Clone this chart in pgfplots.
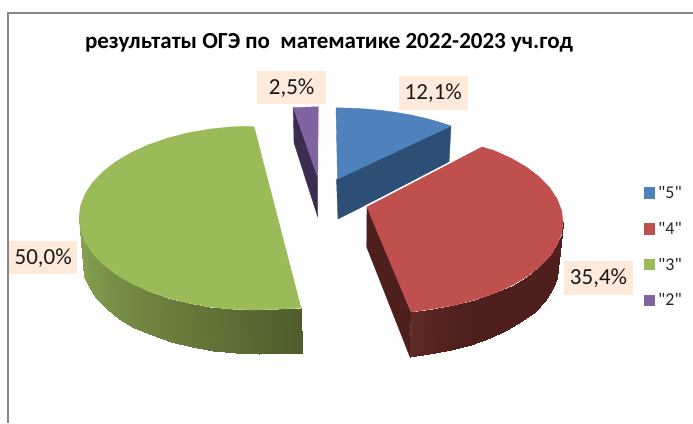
\documentclass[border=0pt]{standalone}
\usepackage{fontspec}
\setmainfont{Carlito}
\newfontfamily\plainfont{Carlito}
\usepackage{pgfplots}
\pgfplotsset{compat=1.18}
\definecolor{bt}{HTML}{4F81BD}
\definecolor{bs}{HTML}{2D4F76}
\definecolor{rt}{HTML}{C0504D}
\definecolor{rs}{HTML}{4E1F1D}
\definecolor{rl}{HTML}{5E2B27}
\definecolor{gt}{HTML}{9BBB59}
\definecolor{gl}{HTML}{8BA753}
\definecolor{gd}{HTML}{4F5E2B}
\definecolor{pt}{HTML}{8064A2}
\definecolor{ps}{HTML}{3B2D4F}
\definecolor{lab}{HTML}{FDEADA}
\definecolor{fr}{HTML}{868686}
\tikzset{lbl/.style={fill=lab,inner sep=0pt,minimum width=68.5pt,minimum height=33.5pt,font=\fontsize{23}{23}\selectfont,text=black!90}}
\pgfplotsset{
 sl/.style={fill=#1,draw=#1,line width=0.4pt,forget plot},
}
\begin{document}
\begin{tikzpicture}
\path[use as bounding box] (0,0) rectangle (693pt,423pt);
\begin{axis}[
  at={(0,0)},anchor=south west,
  scale only axis,width=693pt,height=423pt,
  xmin=0,xmax=693,ymin=0,ymax=423,y dir=reverse,
  hide axis,
  legend image code/.code={\path[draw=none,#1] (0pt,-5.7pt) rectangle (11.5pt,5.7pt);},
  legend style={at={(axis cs:641.5,183)},anchor=north west,draw=none,fill=none,
    font=\plainfont\fontsize{18}{18}\selectfont,row sep=20.2pt,inner sep=2pt,
    nodes={inner ysep=1pt,inner xsep=3pt,text=black!85}},
  legend cell align=left,
]
% frame
\addplot[fr,line width=1.5pt,forget plot] coordinates {(8,423) (8,13) (693,13)};
% blue 12.1
\addplot[sl=bs] coordinates {(337.5,179) (451,126) (449,163) (338,219) (336.5,179)} -- cycle;
\addplot[sl=bt] coordinates {(336,107.8) (351,108.2) (366,109) (381,110.4) (396,112.4) (411,115) (426,118.4) (439,122) (451,126) (337.5,179)} -- cycle;
% purple 2.5
\addplot[sl=ps] coordinates {(293.3,107.7) (317.7,177.3) (317.7,216.7) (294,142.7)} -- cycle;
\addplot[sl=pt] coordinates {(293.3,107.7) (318.3,106.7) (317.7,177.3)} -- cycle;
% green 50
\addplot[surf,shader=interp,forget plot,mesh/rows=2,mesh/ordering=x varies,point meta=explicit,colormap={gg}{color=(gd) color=(gl)},point meta min=0,point meta max=100] coordinates {
 (79,218) [100] (80.5,230) [93] (85,241.8) [86] (92.4,253.2) [79] (102.6,264) [72] (115.4,274) [65] (130.5,283) [58] (147.9,291) [51] (167,297.7) [44] (187.6,303) [37] (209.4,306.9) [30] (232,309.2) [22] (255,310) [12] (278,309.2) [5] (301,308) [0]

 (83,264) [100] (84.5,275.7) [93] (89,287.3) [86] (96.4,298.4) [79] (106.6,309) [72] (119.4,318.8) [65] (134.5,327.6) [58] (151.9,335.4) [51] (171,341.9) [44] (191.6,347.2) [37] (213.4,350.9) [30] (236,353.2) [22] (259,354) [12] (282,353.2) [5] (302,352.5) [0]
};
\addplot[sl=gt] coordinates {(254,126.5) (232,126.8) (209.4,129.1) (187.6,133) (167,138.3) (147.9,145) (130.5,153) (115.4,162) (102.6,172) (92.4,182.8) (85,194.2) (80.5,206) (79,218) (80.5,230) (85,241.8) (92.4,253.2) (102.6,264) (115.4,274) (130.5,283) (147.9,291) (167,297.7) (187.6,303) (209.4,306.9) (232,309.2) (255,310) (278,309.2) (301,308)} -- cycle;
% red 35.4
\addplot[white,line width=2pt,forget plot] coordinates {(365,207) (482,146)};
\addplot[sl=rs] coordinates {(367,207) (411,312) (410,357) (366.7,247)} -- cycle;
\addplot[surf,shader=interp,forget plot,mesh/rows=2,mesh/ordering=x varies,point meta=explicit,colormap={rr}{color=(rs) color=(rl)},point meta min=0,point meta max=100] coordinates {
 (411,312) [100] (432.6,308.9) [55] (454.4,305.2) [20] (475,299.9) [0] (494.1,293.4) [0] (511.5,285.6) [0] (526.6,276.8) [0] (539.4,267) [0] (549.6,256.4) [0] (557,245.3) [0] (561.5,233.7) [0] (563,222) [0]

 (410,357) [100] (429,353.9) [55] (450.6,350.1) [20] (471,344.8) [0] (489.9,338.2) [0] (507,330.3) [0] (522,321.4) [0] (534.7,311.5) [0] (544.8,300.8) [0] (552,289.6) [0] (556.5,277.9) [0] (558,266) [0]
};
\addplot[sl=rt] coordinates {(367,207) (482,147) (494.1,150.6) (511.5,158.4) (526.6,167.2) (539.4,177) (549.6,187.6) (557,198.7) (561.5,210.3) (563,222) (561.5,233.7) (557,245.3) (549.6,256.4) (539.4,267) (526.6,276.8) (511.5,285.6) (494.1,293.4) (475,299.9) (454.4,305.2) (432.6,308.9) (411,312)} -- cycle;
% legend
\addlegendimage{fill=bt}\addlegendentry{"5"}
\addlegendimage{fill=rt}\addlegendentry{"4"}
\addlegendimage{fill=gt}\addlegendentry{"3"}
\addlegendimage{fill=pt}\addlegendentry{"2"}
% labels
\node[lbl] at (axis cs:291.6,87.7) {\raisebox{-1pt}{2,5\%}};
\node[lbl] at (axis cs:433.3,93) {\raisebox{-1pt}{12,1\%}};
\node[lbl] at (axis cs:598.5,278) {\raisebox{-1pt}{35,4\%}};
\node[lbl] at (axis cs:43.2,257.7) {\raisebox{-1pt}{50,0\%}};
\node[font=\bfseries\fontsize{23}{23}\selectfont,text=black] at (axis cs:329,43) {результаты ОГЭ по\ \ математике 2022-2023 уч.год};
\end{axis}
\end{tikzpicture}
\end{document}
